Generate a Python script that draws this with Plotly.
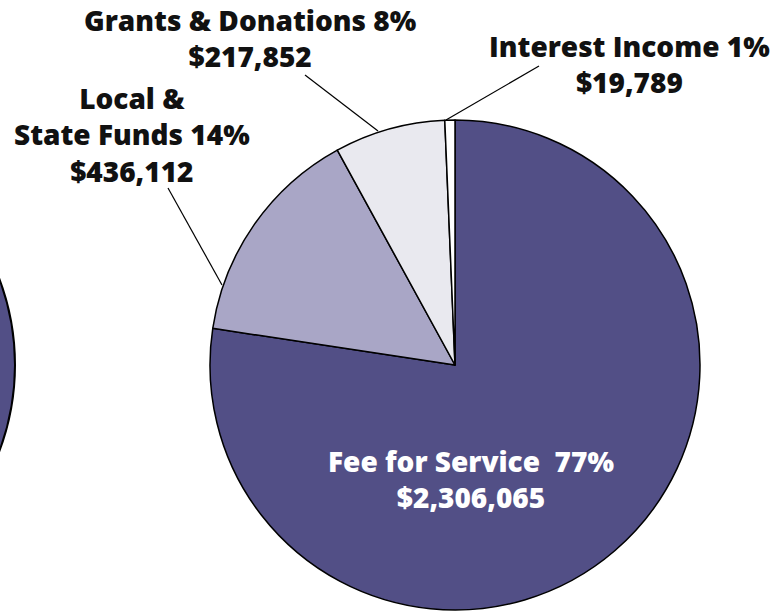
import plotly.graph_objects as go

categories = ["Fee for Service", "Local & State Funds", "Grants & Donations", "Interest Income"]
values = [2306065, 436112, 217852, 19789]
percent_labels = ["77%", "14%", "8%", "1%"]
colors = ["#524f86", "#a9a6c6", "#e9e9ef", "#ffffff"]

W, H = 781, 616

def px(x):
    return x / W

def py(y):
    return 1 - y / H

fig = go.Figure()
fig.add_trace(go.Pie(
    labels=categories,
    values=values,
    sort=False,
    direction="clockwise",
    rotation=0,
    marker=dict(colors=colors, line=dict(color="#000000", width=1.5)),
    textinfo="none",
    hoverinfo="label+value+percent",
    showlegend=False,
    domain=dict(x=[px(210), px(700)], y=[py(610), py(120)]),
))

FONT = "Open Sans"
def money(v):
    return "${:,}".format(v)

ann = [
    dict(x=px(250), y=py(38),
         text=f"{categories[2]} {percent_labels[2]}<br>{money(values[2])}", color="#111111"),
    dict(x=px(132), y=py(135),
         text=f"Local &<br>State Funds {percent_labels[1]}<br>{money(values[1])}", color="#111111"),
    dict(x=px(629), y=py(64),
         text=f"{categories[3]} {percent_labels[3]}<br>{money(values[3])}", color="#111111"),
    dict(x=px(471), y=py(479),
         text=f"{categories[0]}  {percent_labels[0]}<br>{money(values[0])}", color="#ffffff"),
]
for a in ann:
    fig.add_annotation(x=a["x"], y=a["y"], xref="paper", yref="paper",
                       text=a["text"], showarrow=False, align="center",
                       xanchor="center", yanchor="middle",
                       font=dict(family=FONT, size=28, color=a["color"], weight=800))

# leader lines
for (x0, y0, x1, y1) in [(168, 188, 222, 285), (305, 75, 378, 131), (539, 66, 446, 120)]:
    fig.add_shape(type="line", xref="paper", yref="paper",
                  x0=px(x0), y0=py(y0), x1=px(x1), y1=py(y1),
                  line=dict(color="#000000", width=1.2))

# partial neighbouring pie at the left edge
fig.add_shape(type="circle", xref="paper", yref="paper",
              x0=px(15 - 490), x1=px(15), y0=py(365 + 245), y1=py(365 - 245),
              fillcolor="#524f86", line=dict(color="#000000", width=2), layer="below")

fig.update_layout(width=W, height=H, margin=dict(l=0, r=0, t=0, b=0),
                  paper_bgcolor="#ffffff", plot_bgcolor="#ffffff")
fig.write_html("out.html", config={"displayModeBar": False},
               post_script="document.body.style.margin='0';document.body.style.overflow='hidden';")
